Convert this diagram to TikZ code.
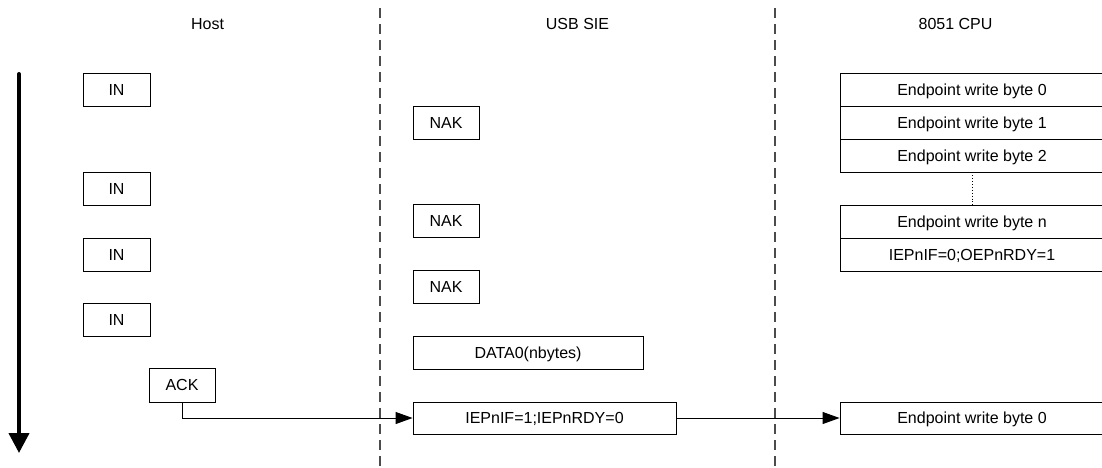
\documentclass[tikz,border=0pt]{standalone}
\usepackage{fontspec}
\setmainfont{Liberation Sans}
\usetikzlibrary{arrows.meta}
\begin{document}
\begin{tikzpicture}[x=1pt,y=-1pt,
  font=\fontsize{16}{19}\selectfont,
  box/.style={draw, line width=0.9pt, inner sep=0pt, minimum height=33pt, text height=11pt, text depth=0pt},
  inbox/.style={box, minimum width=67pt},
  nakbox/.style={box, minimum width=66pt},
  cpubox/.style={box, minimum width=264pt},
  lane/.style={line width=1.1pt, black!70, dash pattern=on 10pt off 6pt},
  conn/.style={line width=0.9pt, -{Triangle[length=17pt,width=12pt]}},
  timeline/.style={line width=4pt, line cap=round, -{Triangle[length=20pt,width=20pt]}}
]
\useasboundingbox (0,0) rectangle (1102,467);

% headers
\node (hHost) at (207.5,24) {Host};
\node (hSIE) at (577.5,24) {USB SIE};
\node (hCPU) at (955.5,24) {8051 CPU};

% lane separators
\coordinate (l1t) at (380,8);
\coordinate (l1b) at (380,467);
\coordinate (l2t) at (775,8);
\coordinate (l2b) at (775,467);
\draw[lane] (l1t) -- (l1b);
\draw[lane] (l2t) -- (l2b);

% time arrow
\coordinate (tTop) at (19,74);
\coordinate (tBot) at (19,453);
\draw[timeline] (tTop) -- (tBot);

% Host
\node[inbox] (in1) at (116.5,89.5) {IN};
\node[inbox] (in2) at (116.5,188.5) {IN};
\node[inbox] (in3) at (116.5,254.5) {IN};
\node[inbox] (in4) at (116.5,319.5) {IN};
\node[box, minimum width=66pt, minimum height=34pt] (ack) at (182,385) {ACK};

% USB SIE
\node[nakbox] (nak1) at (446,123) {NAK};
\node[nakbox] (nak2) at (446,221) {NAK};
\node[nakbox] (nak3) at (446,287) {NAK};
\node[box, minimum width=230pt] (data) at (528,352.5) {DATA0(nbytes)};
\node[box, minimum width=263pt, minimum height=32pt] (iep) at (544.5,418) {IEPnIF=1;IEPnRDY=0};

% 8051 CPU
\node[cpubox] (c0) at (972,89.5) {Endpoint write byte 0};
\node[cpubox] (c1) at (972,122.5) {Endpoint write byte 1};
\node[cpubox] (c2) at (972,155.5) {Endpoint write byte 2};
\node[cpubox] (cn) at (972,221.5) {Endpoint write byte n};
\node[cpubox] (cf) at (972,254.5) {IEPnIF=0;OEPnRDY=1};
\node[cpubox, minimum height=32pt] (cb) at (972,418) {Endpoint write byte 0};

\draw[line width=0.9pt, dotted] (c2.south) -- (cn.north);

% connectors
\draw[conn] (ack.south) |- (iep.west);
\draw[conn] (iep.east) -- (cb.west);
\end{tikzpicture}
\end{document}
